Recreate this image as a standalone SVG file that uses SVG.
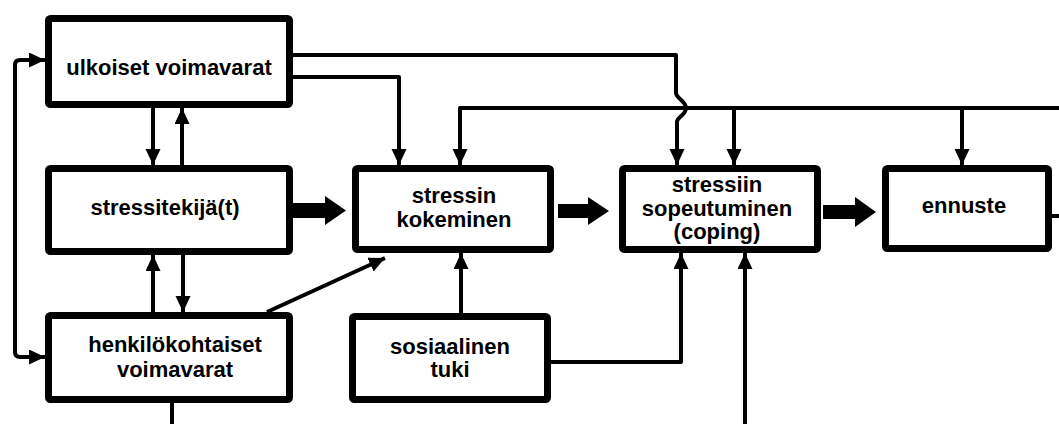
<svg xmlns="http://www.w3.org/2000/svg" width="1059" height="424" viewBox="0 0 1059 424">
  <style>
    .box { fill: #fff; stroke: #000; stroke-width: 7; }
    .lbl { font-family: "Liberation Sans", Arial, Helvetica, sans-serif; font-size: 22px; font-weight: bold; text-anchor: middle; fill: #000; }
    .ln { fill: none; stroke: #000; stroke-width: 4; stroke-linejoin: round; }
    .thick { fill: #000; }
  </style>
  <defs>
    <marker id="ah" markerUnits="userSpaceOnUse" markerWidth="18" markerHeight="16" refX="16" refY="7.5" orient="auto">
      <path d="M0,0 L16,7.5 L0,15 Z" fill="#000"/>
    </marker>
  </defs>
  <rect width="1059" height="424" fill="#fff"/>

  <!-- connectors -->
  <g id="connectors">
    <!-- ulkoiset <-> stressitekijä -->
    <path class="ln" d="M153,108 V165" marker-end="url(#ah)"/>
    <path class="ln" d="M182,165 V108" marker-end="url(#ah)"/>
    <!-- henkilökohtaiset <-> stressitekijä -->
    <path class="ln" d="M153,312 V255" marker-end="url(#ah)"/>
    <path class="ln" d="M183,255 V312" marker-end="url(#ah)"/>
    <!-- feedback loop on the left -->
    <path class="ln" d="M45,60 H20 Q15,60 15,65 V352 Q15,357 20,357 H45" marker-end="url(#ah)"/>
    <path class="ln" d="M20,60 H45" marker-end="url(#ah)"/>
    <path class="ln" d="M172,403 V424"/>
    <!-- ulkoiset -> kokeminen -->
    <path class="ln" d="M293,77 H399 V165" marker-end="url(#ah)"/>
    <!-- ulkoiset -> coping, jumping over the top line -->
    <path class="ln" d="M293,55 H676 V93 C676,98 686,101 686,108 C686,115 677,117 677,122 V165" marker-end="url(#ah)"/>
    <!-- top return line -->
    <path class="ln" d="M1059,108 H460 V165" marker-end="url(#ah)"/>
    <path class="ln" d="M734,108 V165" marker-end="url(#ah)"/>
    <path class="ln" d="M962,108 V165" marker-end="url(#ah)"/>
    <path class="ln" d="M1052,216 H1059"/>
    <!-- henkilökohtaiset -> kokeminen -->
    <path class="ln" d="M267,312 L385,258" marker-end="url(#ah)"/>
    <!-- sosiaalinen tuki -> kokeminen / coping -->
    <path class="ln" d="M461,313 V253" marker-end="url(#ah)"/>
    <path class="ln" d="M551,362 H681 V253" marker-end="url(#ah)"/>
    <!-- from below -> coping -->
    <path class="ln" d="M745,424 V253" marker-end="url(#ah)"/>
    <!-- thick main-flow arrows -->
    <polygon class="thick" points="293,203 325,203 325,196 346,210.5 325,225 325,218 293,218"/>
    <polygon class="thick" points="558,204 588,204 588,197 609,211 588,225 588,218 558,218"/>
    <polygon class="thick" points="823,205 855,205 855,197 876,212 855,227 855,219 823,219"/>
  </g>

  <g id="ulkoiset">
    <rect class="box" x="48.5" y="18.5" width="241" height="86" rx="2"/>
    <text class="lbl" x="169" y="75">ulkoiset voimavarat</text>
  </g>
  <g id="stressitekija">
    <rect class="box" x="48.5" y="168.5" width="241" height="83" rx="2"/>
    <text class="lbl" x="165" y="215">stressitekijä(t)</text>
  </g>
  <g id="henkilokohtaiset">
    <rect class="box" x="48.5" y="315.5" width="241" height="84" rx="2"/>
    <text class="lbl" x="175" y="352">henkilökohtaiset</text>
    <text class="lbl" x="175" y="377">voimavarat</text>
  </g>
  <g id="kokeminen">
    <rect class="box" x="355.5" y="168.5" width="195" height="81" rx="2"/>
    <text class="lbl" x="454" y="203">stressin</text>
    <text class="lbl" x="454" y="227">kokeminen</text>
  </g>
  <g id="sosiaalinen">
    <rect class="box" x="352.5" y="316.5" width="195" height="83" rx="2"/>
    <text class="lbl" x="450" y="354">sosiaalinen</text>
    <text class="lbl" x="450" y="377">tuki</text>
  </g>
  <g id="coping">
    <rect class="box" x="622.5" y="168.5" width="195" height="81" rx="2"/>
    <text class="lbl" x="717" y="192">stressiin</text>
    <text class="lbl" x="717" y="216">sopeutuminen</text>
    <text class="lbl" x="717" y="239">(coping)</text>
  </g>
  <g id="ennuste">
    <rect class="box" x="885.5" y="168.5" width="163" height="80" rx="2"/>
    <text class="lbl" x="964" y="213">ennuste</text>
  </g>
</svg>
